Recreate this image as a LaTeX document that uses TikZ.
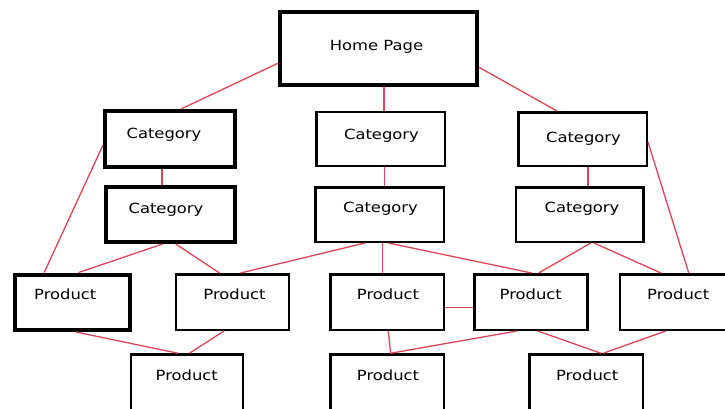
\documentclass[tikz,border=0pt]{standalone}
\usepackage{fontspec}
\setmainfont[FakeStretch=1.17]{DejaVu Sans}
\newcommand{\tx}[3]{\raisebox{#2}{\makebox[0pt]{\kern#1\relax #3\kern-#1\relax}}}
\definecolor{linkred}{HTML}{E04458}
\begin{document}
\begin{tikzpicture}[x=1pt,y=-1pt,
  box/.style={draw=black, line width=2.5pt, fill=white, inner sep=0pt,
    text height=0pt, text depth=0pt, font=\fontsize{14}{16}\selectfont},
  thickbox/.style={box, line width=4pt},
  link/.style={draw=linkred, line width=1.3pt}]
\useasboundingbox (0,0) rectangle (725,408);
\clip (0,0) rectangle (725,408);
\fill[white] (0,0) rectangle (725,408);
% boxes
\node[thickbox, minimum width=197pt, minimum height=73.5pt] (home) at (378.5,48.25) {\tx{-2pt}{-2.5pt}{Home Page}};
\node[thickbox, minimum width=130pt, minimum height=56pt] (c1l) at (170,139) {\tx{-6pt}{0.2pt}{Category}};
\node[thickbox, minimum width=129pt, minimum height=55pt] (c2l) at (170,214.5) {\tx{-4pt}{0.9pt}{Category}};
\node[box, minimum width=128.5pt, minimum height=54pt] (c1m) at (380.5,138.75) {\tx{1pt}{-1pt}{Category}};
\node[box, minimum width=128.5pt, minimum height=54.5pt] (c2m) at (379.5,214.5) {\tx{1pt}{2pt}{Category}};
\node[box, minimum width=128.5pt, minimum height=53.5pt] (c1r) at (582.5,139) {\tx{1pt}{-3pt}{Category}};
\node[box, minimum width=127.5pt, minimum height=54.5pt] (c2r) at (579.5,214.5) {\tx{2.5pt}{2pt}{Category}};
\node[thickbox, minimum width=115.5pt, minimum height=55.5pt] (p1) at (72.25,302.25) {\tx{-7pt}{2.8pt}{Product}};
\node[box, minimum width=113pt, minimum height=55.5pt] (p2) at (232.5,302) {\tx{2pt}{2.8pt}{Product}};
\node[box, minimum width=113.5pt, minimum height=55.5pt] (p3) at (387,302) {\tx{1pt}{2.8pt}{Product}};
\node[box, minimum width=113pt, minimum height=55.5pt] (p4) at (530.75,302) {\tx{0pt}{2.8pt}{Product}};
\node[box, minimum width=113.5pt, minimum height=55.5pt] (p5) at (676.75,302) {\tx{1.5pt}{2.8pt}{Product}};
\node[box, minimum width=112pt, minimum height=55.5pt] (q1) at (186.75,382.25) {\tx{0pt}{1.4pt}{Product}};
\node[box, minimum width=113.5pt, minimum height=55.5pt] (q2) at (387,382.25) {\tx{1pt}{1.4pt}{Product}};
\node[box, minimum width=113.5pt, minimum height=55.5pt] (q3) at (586.2,382.25) {\tx{1pt}{1.4pt}{Product}};
% connectors
\draw[link] ([yshift=-15pt]home.west) -- ([xshift=11pt]c1l.north);
\draw[link] ([xshift=5.5pt]home.south) -- ([xshift=3.5pt]c1m.north);
\draw[link] ([yshift=-19pt]home.east) -- ([xshift=-25.5pt]c1r.north);
\draw[link] ([yshift=-6pt]c1l.west) -- ([xshift=-28pt]p1.north);
\draw[link] ([yshift=-3pt]c1r.east) -- ([xshift=12pt]p5.north);
\draw[link] ([xshift=-8pt]c1l.south) -- ([xshift=-8pt]c2l.north);
\draw[link] ([xshift=4pt]c1m.south) -- ([xshift=5pt]c2m.north);
\draw[link] ([xshift=5.5pt]c1r.south) -- ([xshift=8.5pt]c2r.north);
\draw[link] ([xshift=-7.3pt]c2l.south) -- ([xshift=6.4pt]p1.north);
\draw[link] ([xshift=5.7pt]c2l.south) -- ([xshift=-13pt]p2.north);
\draw[link] ([xshift=-14.5pt]c2m.south) -- ([xshift=8pt]p2.north);
\draw[link] ([xshift=2.8pt]c2m.south) -- ([xshift=-4.7pt]p3.north);
\draw[link] ([xshift=8.8pt]c2m.south) -- ([xshift=1pt]p4.north);
\draw[link] ([xshift=11.3pt]c2r.south) -- ([xshift=7.9pt]p4.north);
\draw[link] ([xshift=14.5pt]c2r.south) -- ([xshift=-15.75pt]p5.north);
\draw[link] ([yshift=-5.7pt]p3.east) -- ([yshift=-5.7pt]p4.west);
\draw[link] ([xshift=3.75pt]p1.south) -- ([xshift=-8.75pt]q1.north);
\draw[link] ([xshift=-8.5pt]p2.south) -- ([xshift=2.75pt]q1.north);
\draw[link] ([xshift=1.3pt]p3.south) -- ([xshift=3.6pt]q2.north);
\draw[link] ([xshift=-13.85pt]p4.south) -- ([xshift=3.6pt]q2.north);
\draw[link] ([xshift=7pt]p4.south) -- ([xshift=14.8pt]q3.north);
\draw[link] ([xshift=-11pt]p5.south) -- ([xshift=17pt]q3.north);
\end{tikzpicture}
\end{document}
